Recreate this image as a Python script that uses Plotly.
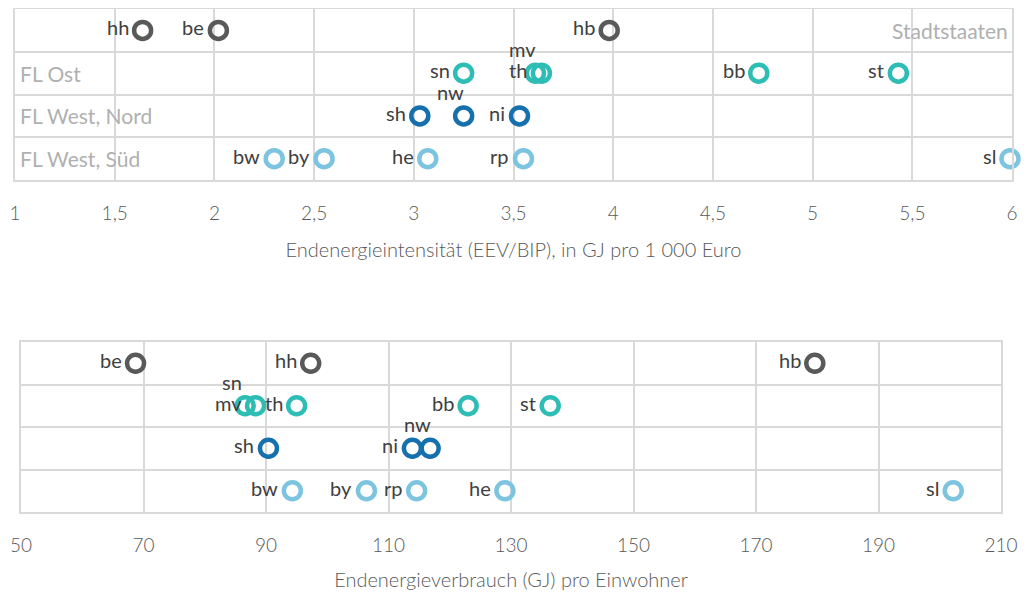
import plotly.graph_objects as go

# ---- data ----
groups = ["FL West, Süd", "FL West, Nord", "FL Ost", "Stadtstaaten"]  # bottom -> top row
group_colors = ["#7DC4E0", "#1570AD", "#2EBDB5", "#595959"]

states_sued = ["bw", "by", "he", "rp", "sl"]
intensity_sued = [2.30, 2.55, 3.07, 3.55, 5.99]
percap_sued = [94.3, 106.4, 129.0, 114.6, 202.2]

states_nord = ["sh", "nw", "ni"]
intensity_nord = [3.03, 3.25, 3.53]
percap_nord = [90.4, 116.8, 113.9]

states_ost = ["sn", "th", "mv", "bb", "st"]
intensity_ost = [3.25, 3.64, 3.61, 4.73, 5.43]
percap_ost = [86.6, 95.0, 88.3, 123.0, 136.4]

states_stadt = ["hh", "be", "hb"]
intensity_stadt = [1.64, 2.02, 3.98]
percap_stadt = [97.3, 68.7, 179.6]

top_ticks = [1, 1.5, 2, 2.5, 3, 3.5, 4, 4.5, 5, 5.5, 6]
top_ticktext = ["1", "1,5", "2", "2,5", "3", "3,5", "4", "4,5", "5", "5,5", "6"]
bot_ticks = [50, 70, 90, 110, 130, 150, 170, 190, 210]

top_title = "Endenergieintensität (EEV/BIP), in GJ pro 1 000 Euro"
bot_title = "Endenergieverbrauch (GJ) pro Einwohner"

# which labels sit above their marker
top_label_above = {"mv", "nw"}
bot_label_above = {"sn", "nw"}

series = [
    (states_sued, intensity_sued, percap_sued),
    (states_nord, intensity_nord, percap_nord),
    (states_ost, intensity_ost, percap_ost),
    (states_stadt, intensity_stadt, percap_stadt),
]

FONT = "Lato"
GRID = "#D9D9D9"
W, H, OFF = 1021, 590, 8  # page body has an 8px margin


def dx(px):
    return (px - OFF) / W


def dy(py):
    return 1 - (py - OFF) / H


fig = go.Figure()
label_font = dict(family=FONT, size=20, color="#404040")

for gi, (names, xs_top, xs_bot) in enumerate(series):
    c = group_colors[gi]
    for xs, above, xa, ya in [(xs_top, top_label_above, "x", "y"),
                              (xs_bot, bot_label_above, "x2", "y2")]:
        fig.add_trace(go.Scatter(
            x=xs, y=[gi] * len(xs), mode="markers", xaxis=xa, yaxis=ya,
            marker=dict(symbol="circle-open", size=17, color=c,
                        line=dict(width=4.5, color=c)),
            cliponaxis=False, showlegend=False, hoverinfo="skip"))
        for n, xv in zip(names, xs):
            if n in above:
                fig.add_annotation(x=xv, y=gi, xref=xa, yref=ya, text=n,
                                   showarrow=False, xanchor="center",
                                   yanchor="bottom", xshift=-13, yshift=10,
                                   font=label_font)
            else:
                fig.add_annotation(x=xv, y=gi, xref=xa, yref=ya, text=n,
                                   showarrow=False, xanchor="right",
                                   yanchor="middle", xshift=-12, yshift=3,
                                   font=label_font)

# category labels in top chart
for gi, g in enumerate(groups):
    if g == "Stadtstaaten":
        fig.add_annotation(x=1, xref="x domain", y=gi, yref="y", text=g,
                           xanchor="right", showarrow=False, xshift=-2,
                           font=dict(family=FONT, size=21, color="#B0B0B0"))
    else:
        fig.add_annotation(x=0, xref="x domain", y=gi, yref="y", text=g,
                           xanchor="left", showarrow=False, xshift=3,
                           font=dict(family=FONT, size=21, color="#B0B0B0"))

yax = dict(range=[-0.5, 3.5], tickvals=[-0.5, 0.5, 1.5, 2.5, 3.5],
           showticklabels=False, showgrid=True, gridcolor=GRID, gridwidth=2,
           zeroline=False, showline=True, linecolor=GRID, linewidth=2, mirror=True,
           fixedrange=True, automargin=False)
xax_common = dict(showgrid=True, gridcolor=GRID, gridwidth=2, zeroline=False,
                  showline=True, linecolor=GRID, linewidth=2, mirror=True,
                  ticks="", ticklabelstandoff=15, automargin=False,
                  tickfont=dict(family=FONT, size=19, color="#595959", weight=300),
                  title_font=dict(family=FONT, size=20, color="#595959", weight=300))

fig.update_layout(
    width=W, height=H,
    margin=dict(l=0, r=0, t=0, b=0),
    paper_bgcolor="white", plot_bgcolor="white",
    xaxis=dict(domain=[dx(15), dx(1012)], range=[1, 6],
               tickvals=top_ticks, ticktext=top_ticktext,
               title=dict(text=top_title, standoff=20), anchor="y", **xax_common),
    yaxis=dict(domain=[dy(180), dy(9)], anchor="x", **yax),
    xaxis2=dict(domain=[dx(21), dx(1001)], range=[50, 210],
                tickvals=bot_ticks,
                title=dict(text=bot_title, standoff=18), anchor="y2", **xax_common),
    yaxis2=dict(domain=[dy(512), dy(342)], anchor="x2", **yax),
)

fig.write_html("out.html")
